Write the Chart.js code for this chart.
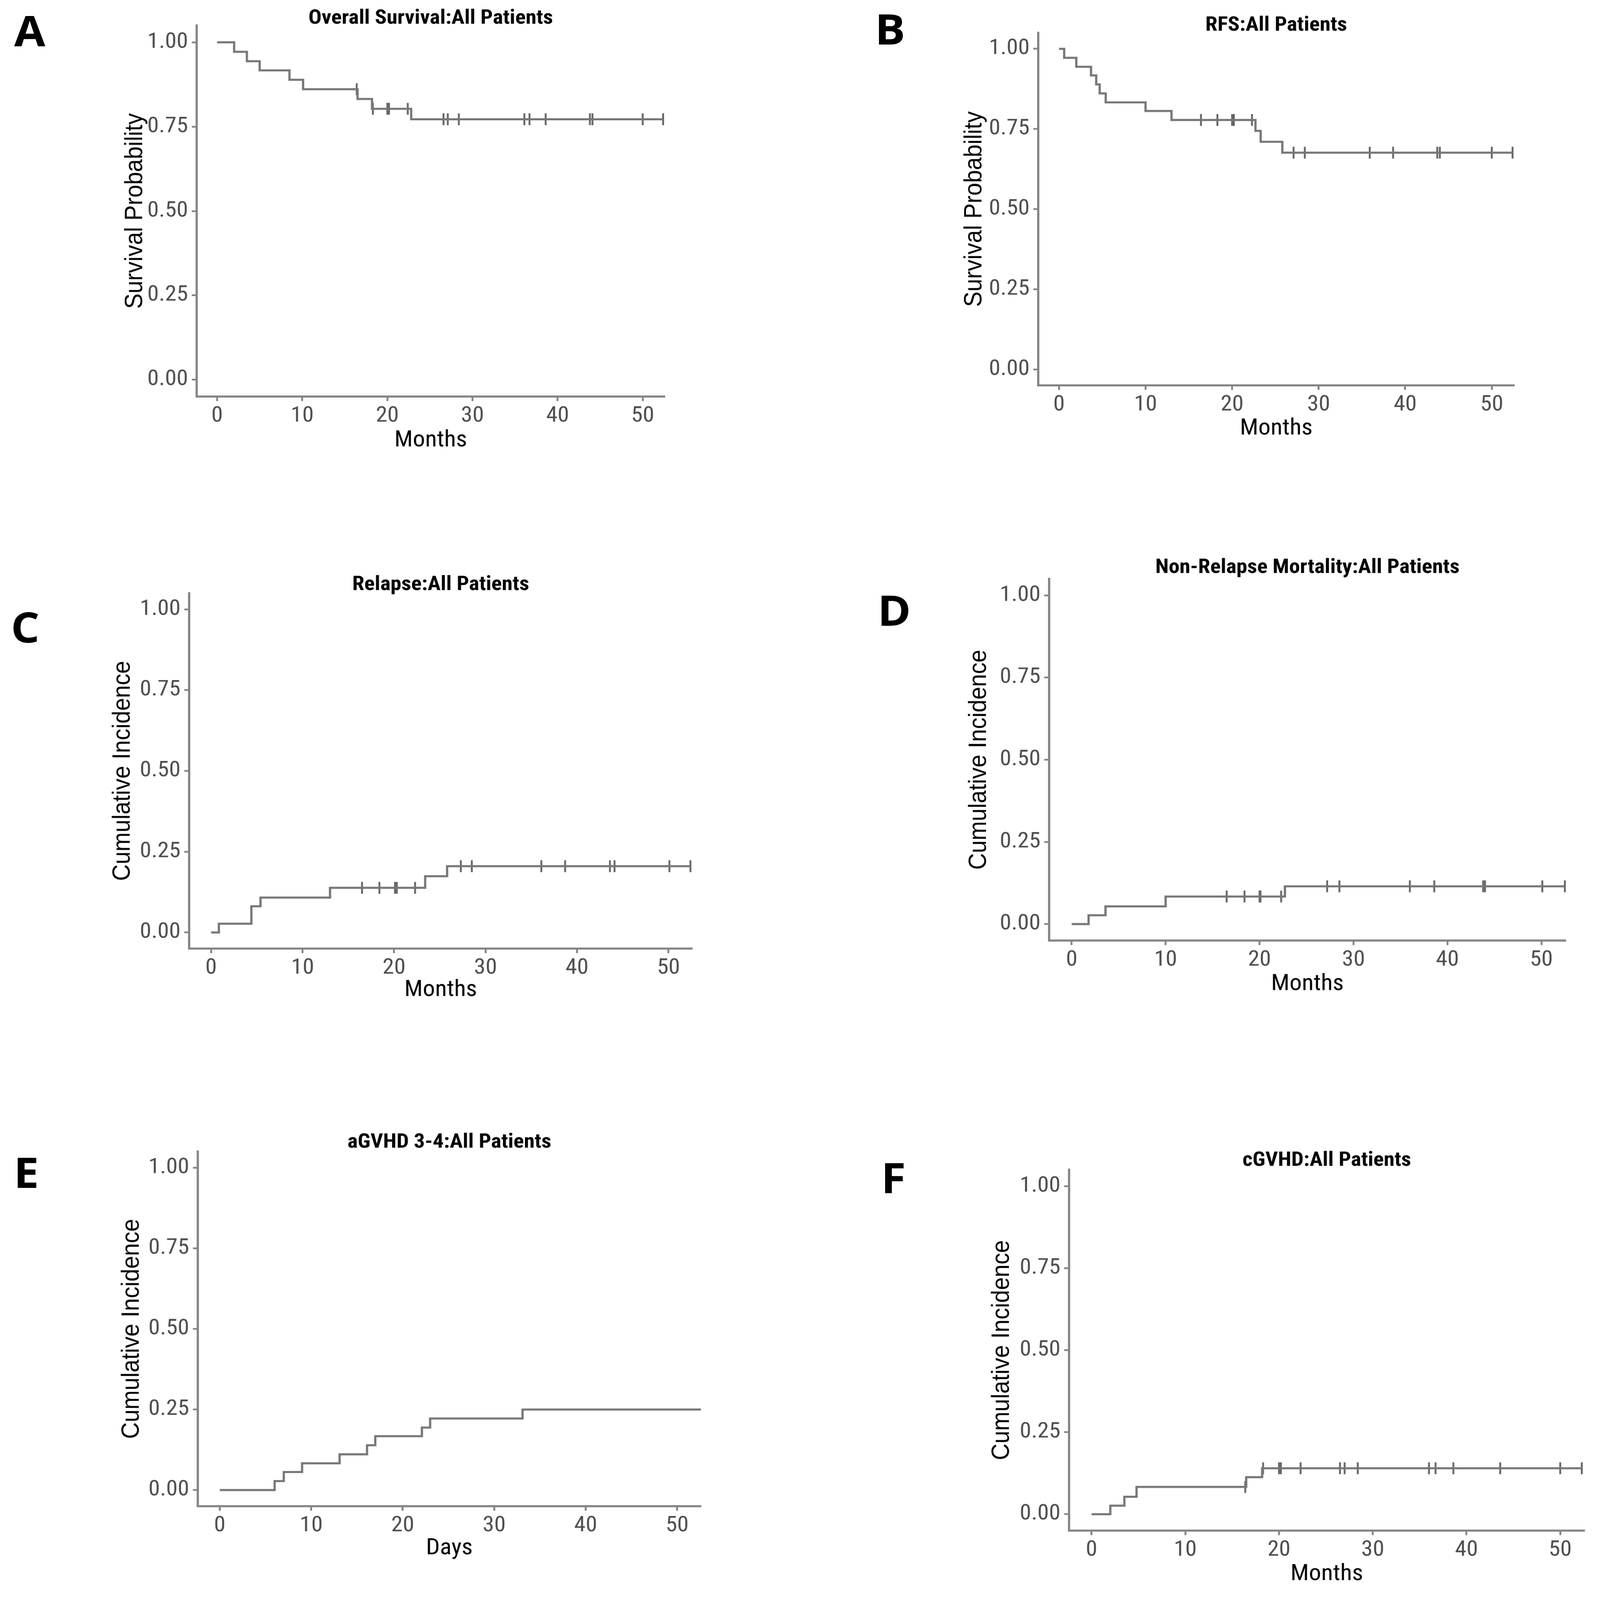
<!DOCTYPE html>
<html>
<head>
<meta charset="utf-8">
<title>Survival and cumulative incidence: All Patients</title>
<script src="https://cdn.jsdelivr.net/npm/chart.js@4.4.1/dist/chart.umd.min.js"></script>
<style>
  html, body { margin: 0; padding: 0; background: #fff; overflow: hidden; }
  #page { position: relative; width: 4255px; height: 4588px; overflow: hidden; background: #fff; transform-origin: 0 0; }
  #page canvas { position: absolute; }
  .tag {
    position: absolute;
    font-family: 'Open Sans', 'Liberation Sans', sans-serif;
    font-weight: 700;
    font-size: 120px;
    line-height: 1;
    color: #000;
    transform: translate(-50%, -50%);
  }
</style>
</head>
<body>
<div id="page"></div>
<script>
// shared ticks
const xTicks = [0, 10, 20, 30, 40, 50];
const yTicks = [0, 0.25, 0.5, 0.75, 1];

// A - overall survival (step times in months and the value after each step)
const osTime = [0, 2.0, 3.5, 5.0, 8.5, 10.1, 16.5, 18.2, 22.8, 52.4];
const osValue = [1, 0.972, 0.944, 0.917, 0.889, 0.861, 0.832, 0.803, 0.772, 0.772];
const osCensor = [16.4, 18.3, 20.0, 20.2, 22.4, 26.6, 27.1, 28.4, 36.1, 36.7, 38.6, 43.8, 44.1, 50.0, 52.4];

// B - relapse free survival
const rfsTime = [0, 0.6, 2.0, 3.7, 4.3, 4.7, 5.4, 10.0, 13.0, 22.7, 23.3, 25.8, 52.4];
const rfsValue = [1, 0.972, 0.944, 0.917, 0.889, 0.861, 0.833, 0.806, 0.778, 0.744, 0.710, 0.676, 0.676];
const rfsCensor = [16.4, 18.3, 20.0, 20.2, 22.3, 27.1, 28.4, 35.9, 38.6, 43.7, 44.0, 50.0, 52.4];

// C - relapse
const relTime = [0, 0.85, 4.4, 5.4, 13.0, 23.4, 25.8, 52.4];
const relValue = [0, 0.027, 0.081, 0.108, 0.138, 0.174, 0.205, 0.205];
const relCensor = [16.5, 18.4, 20.1, 20.3, 22.3, 27.3, 28.5, 36.1, 38.7, 43.6, 44.1, 50.1, 52.4];

// D - non-relapse mortality
const nrmTime = [0, 1.8, 3.6, 10.0, 22.7, 52.5];
const nrmValue = [0, 0.027, 0.054, 0.084, 0.115, 0.115];
const nrmCensor = [16.5, 18.4, 20.0, 20.1, 22.3, 27.2, 28.5, 36.0, 38.6, 43.8, 44.0, 50.1, 52.5];

// E - aGVHD 3-4 (days)
const agvhdTime = [0, 6.0, 7.0, 9.0, 13.1, 16.1, 17.0, 22.1, 23.0, 33.1, 52.6];
const agvhdValue = [0, 0.028, 0.056, 0.083, 0.111, 0.139, 0.167, 0.194, 0.222, 0.250, 0.250];
const agvhdCensor = [];

// F - cGVHD
const cgvhdTime = [0, 2.0, 3.5, 4.8, 16.5, 18.2, 52.3];
const cgvhdValue = [0, 0.026, 0.053, 0.083, 0.113, 0.140, 0.140];
const cgvhdCensor = [16.4, 18.3, 20.0, 20.2, 22.3, 26.5, 27.0, 28.4, 36.0, 36.7, 38.6, 43.6, 50.0, 52.3];

const NARROW = "'Roboto Condensed', 'Liberation Sans', sans-serif";
const REGULAR = "'Liberation Sans', Arial, sans-serif";
const TICK = '#4d4d4d';
const AXIS = '#858585';
const CURVE = '#777777';
const MARK = '#666666';

// canvas margins round each plot area
const WY = 400, PT = 140, HX = 260, PR = 60;

const panels = [
  { tag: 'A', tagAt: [79, 86], title: 'Overall Survival:All Patients', yTitle: 'Survival Probability', xTitle: 'Months',
    time: osTime, value: osValue, censor: osCensor, box: [523, 1768, 73, 1137], yOff: 163, xOff: 127, tOff: 20 },
  { tag: 'B', tagAt: [2367, 82], title: 'RFS:All Patients', yTitle: 'Survival Probability', xTitle: 'Months',
    time: rfsTime, value: rfsValue, censor: rfsCensor, box: [2761, 4027, 94, 1105], yOff: 169, xOff: 125, tOff: 21 },
  { tag: 'C', tagAt: [67, 1797], title: 'Relapse:All Patients', yTitle: 'Cumulative Incidence', xTitle: 'Months',
    time: relTime, value: relValue, censor: relCensor, box: [503, 1841, 1701, 2720], yOff: 176, xOff: 120, tOff: 24 },
  { tag: 'D', tagAt: [2378, 1748], title: 'Non-Relapse Mortality:All Patients', yTitle: 'Cumulative Incidence', xTitle: 'Months',
    time: nrmTime, value: nrmValue, censor: nrmCensor, box: [2790, 4164, 1660, 2697], yOff: 186, xOff: 126, tOff: 32 },
  { tag: 'E', tagAt: [70, 3360], title: 'aGVHD 3-4:All Patients', yTitle: 'Cumulative Incidence', xTitle: 'Days',
    time: agvhdTime, value: agvhdValue, censor: agvhdCensor, box: [526, 1864, 3302, 4319], yOff: 175, xOff: 122, tOff: 26 },
  { tag: 'F', tagAt: [2376, 3375], title: 'cGVHD:All Patients', yTitle: 'Cumulative Incidence', xTitle: 'Months',
    time: cgvhdTime, value: cgvhdValue, censor: cgvhdCensor, box: [2843, 4214, 3354, 4389], yOff: 178, xOff: 126, tOff: 26 }
];

// value of the step curve at time t
function stepAt(time, value, t) {
  let v = value[0];
  for (let i = 0; i < time.length; i++) {
    if (time[i] <= t) v = value[i];
  }
  return v;
}

const page = document.getElementById('page');
// the figure is laid out at 4255x4588, fit it to whatever window we get
page.style.transform = 'scale(' + (window.innerWidth / 4255) + ',' + (window.innerHeight / 4588) + ')';

function makePanel(p) {
  const [left, right, top, bottom] = p.box;
  const W = WY + (right - left) + PR;
  const H = PT + (bottom - top) + HX;

  const canvas = document.createElement('canvas');
  canvas.width = W;
  canvas.height = H;
  canvas.style.left = (left - WY) + 'px';
  canvas.style.top = (top - PT) + 'px';
  canvas.style.width = W + 'px';
  canvas.style.height = H + 'px';
  page.appendChild(canvas);

  const tag = document.createElement('div');
  tag.className = 'tag';
  tag.textContent = p.tag;
  tag.style.left = p.tagAt[0] + 'px';
  tag.style.top = p.tagAt[1] + 'px';
  page.appendChild(tag);

  const titleBottom = p.tOff - 14.5;

  new Chart(canvas, {
    type: 'line',
    data: {
      datasets: [
        {
          data: p.time.map(function (t, i) { return { x: t, y: p.value[i] }; }),
          stepped: true,
          borderColor: CURVE,
          borderWidth: 6,
          pointRadius: 0,
          fill: false
        },
        {
          type: 'scatter',
          data: p.censor.map(function (t) { return { x: t, y: stepAt(p.time, p.value, t) }; }),
          showLine: false,
          pointStyle: 'line',
          pointRotation: 90,
          pointRadius: 17,
          pointBorderWidth: 5,
          pointBorderColor: MARK,
          pointBackgroundColor: MARK
        }
      ]
    },
    options: {
      responsive: false,
      animation: false,
      devicePixelRatio: 1,
      layout: { padding: { top: 0, right: PR, bottom: 0, left: 0 } },
      plugins: {
        legend: { display: false },
        tooltip: { enabled: false },
        title: {
          display: true,
          text: p.title,
          fullSize: false,
          color: '#000',
          font: { family: NARROW, size: 58, weight: 'bold', lineHeight: 0.5 },
          padding: { top: PT - 29 - titleBottom, bottom: titleBottom }
        }
      },
      scales: {
        x: {
          type: 'linear',
          min: -2.4,
          max: 52.6,
          afterBuildTicks: function (s) { s.ticks = xTicks.map(function (v) { return { value: v }; }); },
          afterFit: function (s) { s.height = HX; },
          grid: { display: true, drawOnChartArea: false, drawTicks: true, tickLength: 13, tickWidth: 5, tickColor: AXIS, color: AXIS },
          border: { display: true, color: AXIS, width: 6 },
          ticks: {
            color: TICK,
            padding: 6,
            maxRotation: 0,
            autoSkip: false,
            font: { family: NARROW, size: 62 },
            callback: function (v) { return String(v); }
          },
          title: {
            display: true,
            text: p.xTitle,
            color: '#000',
            font: { family: NARROW, size: 65, lineHeight: 1 },
            padding: { top: 0, bottom: HX - p.xOff - 32.5 }
          }
        },
        y: {
          min: -0.05,
          max: 1.05,
          afterBuildTicks: function (s) { s.ticks = yTicks.map(function (v) { return { value: v }; }); },
          afterFit: function (s) { s.width = WY; },
          grid: { display: true, drawOnChartArea: false, drawTicks: true, tickLength: 13, tickWidth: 5, tickColor: AXIS, color: AXIS },
          border: { display: true, color: AXIS, width: 6 },
          ticks: {
            color: TICK,
            padding: 10,
            font: { family: NARROW, size: 62 },
            callback: function (v) { return v.toFixed(2); }
          },
          title: {
            display: true,
            text: p.yTitle,
            color: '#000',
            font: { family: REGULAR, size: 66, lineHeight: 1 },
            padding: { top: WY - p.yOff - 33, bottom: 0 }
          }
        }
      }
    }
  });
}

panels.forEach(makePanel);
</script>
</body>
</html>
